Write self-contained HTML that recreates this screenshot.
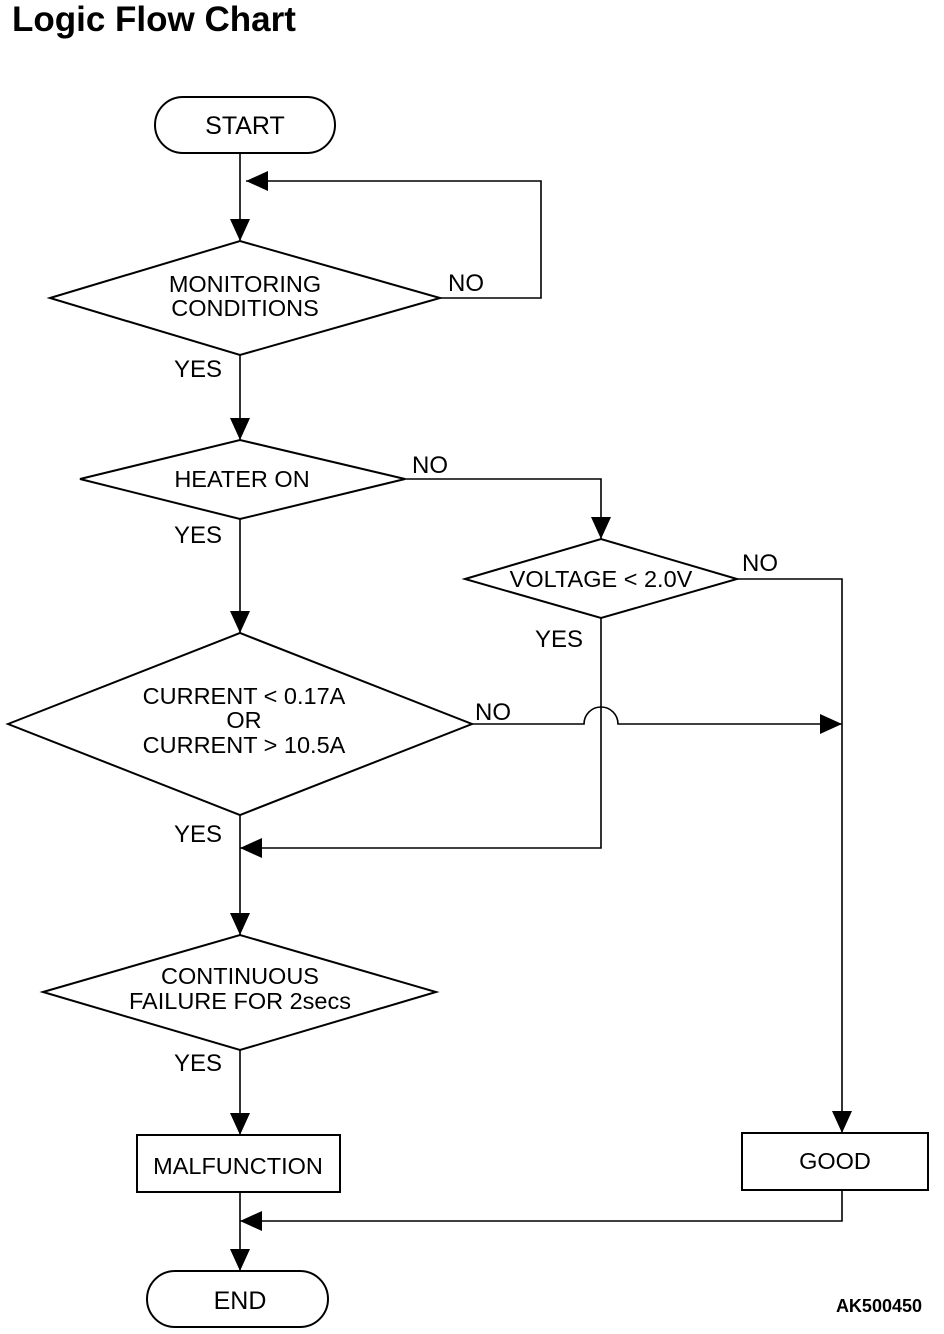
<!DOCTYPE html>
<html><head><style>
html,body{margin:0;padding:0;background:#fff;}
svg{display:block;}
text{font-family:"Liberation Sans",Arial,sans-serif;fill:#000;}
.t{font-size:23.5px;text-anchor:middle;}
.l{font-size:24px;}
</style></head><body>
<svg width="944" height="1334" viewBox="0 0 944 1334" xmlns="http://www.w3.org/2000/svg">
<text x="12" y="31" style="font-size:35px;font-weight:bold">Logic Flow Chart</text>
<g fill="none" stroke="#000" stroke-width="2">
<rect x="155" y="97" width="180" height="56" rx="28"/>
<polygon points="50,298 240,241 440,298 240,355"/>
<polygon points="80,479 240,440 405,479 240,519"/>
<polygon points="465,579 601,539 737,579 601,618"/>
<polygon points="8,724 240,633 472,724 240,815"/>
<polygon points="43,992 240,935 436,992 240,1050"/>
<rect x="137" y="1135" width="203" height="57"/>
<rect x="742" y="1133" width="186" height="57"/>
<rect x="147" y="1271" width="181" height="56" rx="28"/>
</g>
<g fill="none" stroke="#000" stroke-width="1.6">
<line x1="240" y1="153" x2="240" y2="241"/>
<polyline points="440,298 541,298 541,181 246,181"/>
<line x1="240" y1="355" x2="240" y2="440"/>
<polyline points="405,479 601,479 601,539"/>
<line x1="240" y1="519" x2="240" y2="633"/>
<polyline points="737,579 842,579 842,1133"/>
<path d="M472,724 L584,724 A17,17 0 0 1 618,724 L842,724"/>
<polyline points="601,618 601,848 240,848"/>
<line x1="240" y1="815" x2="240" y2="935"/>
<line x1="240" y1="1050" x2="240" y2="1135"/>
<polyline points="842,1190 842,1221 240,1221"/>
<line x1="240" y1="1192" x2="240" y2="1271"/>
</g>
<g fill="#000">
<path d="M230,219 L250,219 L240,241 z"/>
<path d="M268,171 L268,191 L246,181 z"/>
<path d="M230,418 L250,418 L240,440 z"/>
<path d="M591,517 L611,517 L601,539 z"/>
<path d="M230,611 L250,611 L240,633 z"/>
<path d="M820,714 L820,734 L842,724 z"/>
<path d="M262,838 L262,858 L240,848 z"/>
<path d="M230,913 L250,913 L240,935 z"/>
<path d="M832,1111 L852,1111 L842,1133 z"/>
<path d="M230,1113 L250,1113 L240,1135 z"/>
<path d="M262,1211 L262,1231 L240,1221 z"/>
<path d="M230,1249 L250,1249 L240,1271 z"/>
</g>
<text class="t" x="245" y="134" style="font-size:25px">START</text>
<text class="t" x="245" y="292">MONITORING</text>
<text class="t" x="245" y="316">CONDITIONS</text>
<text class="t" x="242" y="487">HEATER ON</text>
<text class="t" x="601" y="587">VOLTAGE &lt; 2.0V</text>
<text class="t" x="244" y="704">CURRENT &lt; 0.17A</text>
<text class="t" x="244" y="728">OR</text>
<text class="t" x="244" y="753">CURRENT &gt; 10.5A</text>
<text class="t" x="240" y="984">CONTINUOUS</text>
<text class="t" x="240" y="1009">FAILURE FOR 2secs</text>
<text class="t" x="238" y="1174">MALFUNCTION</text>
<text class="t" x="835" y="1169">GOOD</text>
<text class="t" x="240" y="1309" style="font-size:25px">END</text>
<text class="l" x="448" y="291">NO</text>
<text class="l" x="174" y="377">YES</text>
<text class="l" x="412" y="473">NO</text>
<text class="l" x="174" y="543">YES</text>
<text class="l" x="742" y="571">NO</text>
<text class="l" x="535" y="647">YES</text>
<text class="l" x="475" y="720">NO</text>
<text class="l" x="174" y="842">YES</text>
<text class="l" x="174" y="1071">YES</text>
<text x="922" y="1312" style="font-size:18px;font-weight:bold;text-anchor:end">AK500450</text>
</svg>
</body></html>
